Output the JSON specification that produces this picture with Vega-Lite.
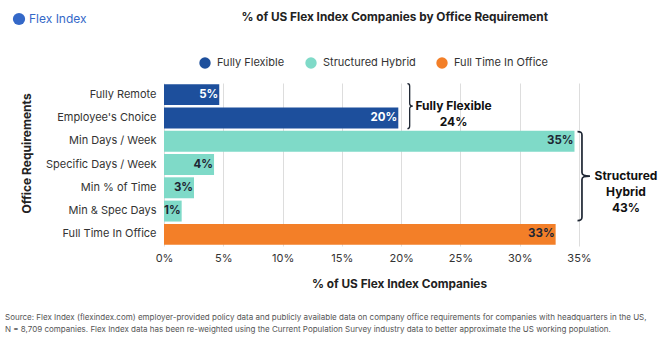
{
  "$schema": "https://vega.github.io/schema/vega-lite/v6.json",
  "width": 415,
  "height": 163,
  "autosize": {"type": "none"},
  "padding": {"left": 164, "top": 83, "right": 82, "bottom": 92},
  "background": "white",
  "config": {
    "font": "Inter",
    "view": {"stroke": null},
    "text": {"font": "Inter"}
  },
  "title": {
    "text": ["Source: Flex Index (flexindex.com) employer-provided policy data and publicly available data on company office requirements for companies with headquarters in the US,", "N = 8,709 companies. Flex Index data has been re-weighted using the Current Population Survey industry data to better approximate the US working population."],
    "orient": "bottom",
    "anchor": "start",
    "frame": "group",
    "dx": -159,
    "offset": 24,
    "fontSize": 8,
    "fontWeight": "normal",
    "color": "#555555",
    "lineHeight": 12,
    "font": "Inter"
  },
  "datasets": {
    "rows": [
      {"req": "Fully Remote", "group": "Fully Flexible", "pct": 0.0466},
      {"req": "Employee's Choice", "group": "Fully Flexible", "pct": 0.1976},
      {"req": "Min Days / Week", "group": "Structured Hybrid", "pct": 0.3462},
      {"req": "Specific Days / Week", "group": "Structured Hybrid", "pct": 0.0422},
      {"req": "Min % of Time", "group": "Structured Hybrid", "pct": 0.0253},
      {"req": "Min & Spec Days", "group": "Structured Hybrid", "pct": 0.0149},
      {"req": "Full Time In Office", "group": "Full Time In Office", "pct": 0.3303}
    ],
    "notes": [
      {"id": "ff", "label": "Fully Flexible\n24%", "bx": 0.2072, "tx": 0.2442, "row": "Fully Remote"},
      {"id": "sh", "label": "Structured\nHybrid\n43%", "bx": 0.3525, "tx": 0.3896, "row": "Specific Days / Week"}
    ],
    "brand": [
      {"brand": "Flex Index", "pct": 0.1, "req": "Min Days / Week"}
    ]
  },
  "layer": [
    {
      "data": {"name": "brand"},
      "mark": {"type": "point", "filled": true, "color": "#3468c8", "size": 10},
      "encoding": {
        "x": {"field": "pct", "type": "quantitative"},
        "y": {"field": "req", "type": "nominal"},
        "shape": {
          "field": "brand",
          "type": "nominal",
          "scale": {"range": ["circle"]},
          "legend": {
            "orient": "none",
            "legendX": -152,
            "legendY": -71,
            "title": null,
            "symbolSize": 150,
            "symbolFillColor": "#3468c8",
            "symbolStrokeColor": "#3468c8",
            "symbolOpacity": 1,
            "labelFontSize": 12,
            "labelColor": "#3468c8",
            "labelOffset": 3,
            "labelFont": "Inter"
          }
        }
      }
    },
    {
      "data": {"name": "rows"},
      "mark": {"type": "bar"},
      "encoding": {
        "y": {
          "field": "req",
          "type": "nominal",
          "scale": {
            "domain": ["Fully Remote", "Employee's Choice", "Min Days / Week", "Specific Days / Week", "Min % of Time", "Min & Spec Days", "Full Time In Office"],
            "paddingInner": 0.1,
            "paddingOuter": 0.05
          },
          "axis": {
            "title": "Office Requirements",
            "ticks": false,
            "domain": false,
            "labelPadding": 8,
            "labelFontSize": 11,
            "labelColor": "#333333",
            "labelFont": "Inter",
            "titleFontSize": 12,
            "titleFontWeight": "bold",
            "titleColor": "#222222",
            "titlePadding": 12,
            "titleY": 70,
            "titleFont": "Inter"
          }
        },
        "x": {
          "field": "pct",
          "type": "quantitative",
          "scale": {"domain": [0, 0.35], "nice": false},
          "axis": {
            "title": "% of US Flex Index Companies",
            "format": ".0%",
            "values": [0, 0.05, 0.1, 0.15, 0.2, 0.25, 0.3, 0.35],
            "grid": true,
            "gridColor": "#dddddd",
            "domain": false,
            "ticks": false,
            "labelPadding": 6,
            "labelFlush": false,
            "labelFontSize": 11,
            "labelColor": "#333333",
            "labelFont": "Inter",
            "titleFontSize": 11.8,
            "titleFontWeight": "bold",
            "titleColor": "#222222",
            "titlePadding": 15,
            "titleX": 235,
            "titleFont": "Inter"
          }
        },
        "color": {
          "field": "group",
          "type": "nominal",
          "scale": {
            "domain": ["Fully Flexible", "Structured Hybrid", "Full Time In Office"],
            "range": ["#1d4f9c", "#7fdac8", "#f37f28"]
          },
          "legend": {
            "orient": "none",
            "direction": "horizontal",
            "legendX": 35,
            "legendY": -71,
            "title": "% of US Flex Index Companies by Office Requirement",
            "titleAnchor": "end",
            "titleFontSize": 11.8,
            "titleFontWeight": "bold",
            "titleColor": "#222222",
            "titleFont": "Inter",
            "titlePadding": 33,
            "titleLimit": 600,
            "symbolType": "circle",
            "symbolSize": 130,
            "symbolStrokeWidth": 0,
            "labelFontSize": 11,
            "labelColor": "#333333",
            "labelFont": "Inter",
            "labelOffset": 6,
            "columnPadding": 20
          }
        }
      }
    },
    {
      "data": {"name": "rows"},
      "mark": {"type": "text", "align": "right", "baseline": "middle", "dx": -1, "fontSize": 11.5, "fontWeight": "bold", "font": "Inter"},
      "encoding": {
        "y": {"field": "req", "type": "nominal"},
        "x": {"field": "pct", "type": "quantitative"},
        "text": {"field": "pct", "type": "quantitative", "format": ".0%"},
        "color": {
          "condition": {"test": "datum.group === 'Fully Flexible'", "value": "#ffffff"},
          "value": "#1e2633"
        }
      }
    },
    {
      "data": {"name": "notes"},
      "transform": [{"filter": "datum.id === 'ff'"}],
      "mark": {
        "type": "point",
        "filled": false,
        "stroke": "#1e2633",
        "strokeWidth": 1.3,
        "opacity": 1,
        "size": 2025,
        "shape": "M -0.1 -1 C -0.02 -1 0 -0.97 0 -0.88 L 0 -0.12 C 0 -0.04 0.05 0 0.14 0 C 0.05 0 0 0.04 0 0.12 L 0 0.88 C 0 0.97 -0.02 1 -0.1 1"
      },
      "encoding": {
        "x": {"field": "bx", "type": "quantitative"},
        "y": {"field": "row", "type": "nominal", "bandPosition": 1.05}
      }
    },
    {
      "data": {"name": "notes"},
      "transform": [{"filter": "datum.id === 'sh'"}],
      "mark": {
        "type": "point",
        "filled": false,
        "stroke": "#1e2633",
        "strokeWidth": 1.7,
        "opacity": 1,
        "size": 7921,
        "shape": "M -0.1 -1 C -0.02 -1 0 -0.98 0 -0.92 L 0 -0.08 C 0 -0.02 0.06 0 0.18 0 C 0.06 0 0 0.02 0 0.08 L 0 0.92 C 0 0.98 -0.02 1 -0.1 1"
      },
      "encoding": {
        "x": {"field": "bx", "type": "quantitative"},
        "y": {"field": "row", "type": "nominal", "bandPosition": 1.05}
      }
    },
    {
      "data": {"name": "notes"},
      "mark": {"type": "text", "align": "center", "baseline": "middle", "lineBreak": "\n", "lineHeight": 16, "fontSize": 12, "fontWeight": "bold", "color": "#111111", "font": "Inter"},
      "encoding": {
        "x": {"field": "tx", "type": "quantitative"},
        "y": {"field": "row", "type": "nominal", "bandPosition": 1.05},
        "text": {"field": "label", "type": "nominal"}
      }
    }
  ]
}
